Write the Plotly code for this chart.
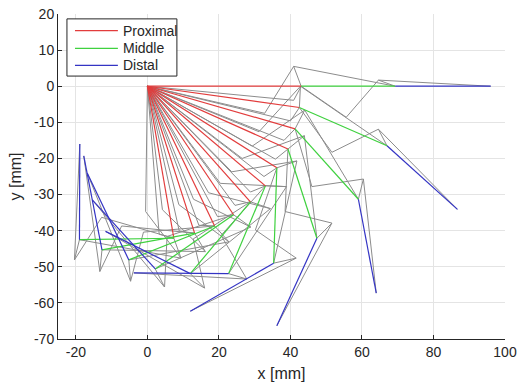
import plotly.graph_objects as go

# joint positions per posture (mm)
pip_x = [43.0, 42.5, 41.3, 39.3, 36.2, 33.0, 28.8, 24.1, 18.8, 13.2, 7.4]
pip_y = [0.0, -5.9, -11.8, -17.4, -22.6, -27.6, -32.0, -35.6, -38.7, -40.7, -42.1]
dip_x = [69.3, 67.0, 59.0, 47.4, 35.3, 22.7, 12.0, 2.2, -5.2, -12.7, -19.0]
dip_y = [0.0, -16.5, -31.3, -42.1, -49.0, -51.9, -51.9, -50.6, -48.1, -45.3, -42.5]
tip_x = [96.0, 86.7, 64.0, 36.2, 12.0, -3.8, -11.7, -15.4, -16.8, -17.8, -18.9]
tip_y = [0.0, -34.1, -57.3, -66.3, -62.3, -51.7, -40.2, -31.5, -24.1, -19.3, -16.0]

# linkage points (gray)
prx_cx = [40.9, 40.0, 38.2, 35.8, 32.6, 28.8, 24.5, 19.6, 14.4, 8.9, 3.3]
prx_cy = [-3.9, -9.6, -15.0, -20.2, -25.0, -29.3, -33.0, -36.1, -38.5, -40.1, -41.0]
drv_x = [32.8, 31.2, 29.3, 26.5, 23.6, 20.4, 17.1, 12.9, 8.8, 4.2, -0.5]
drv_y = [-7.5, -12.6, -16.6, -20.0, -23.7, -26.9, -29.5, -31.3, -32.8, -34.2, -34.7]
mid_ax = [40.9, 42.8, 44.0, 43.9, 41.8, 38.9, 34.4, 28.9, 22.8, 16.2, 9.4]
mid_ay = [5.5, 0.0, -6.6, -13.7, -20.7, -27.8, -33.9, -39.0, -43.1, -45.8, -47.6]
apx_x = [64.6, 64.6, 60.4, 51.6, 41.6, 27.8, 16.0, 4.8, -4.7, -13.3, -20.4]
apx_y = [1.7, -11.9, -25.7, -37.9, -47.6, -53.4, -55.9, -55.6, -54.0, -51.3, -48.1]
cpl_x = [55.6, 51.6, 46.0, 38.5, 30.2, 20.6, 12.8, 5.5, -1.1, -7.2, -12.8]
cpl_y = [-8.6, -18.3, -27.8, -34.7, -39.8, -41.3, -42.3, -41.6, -40.4, -38.7, -36.3]

legend_names = ["Proximal", "Middle", "Distal"]
RED, GREEN, BLUE, GRAY = "#e23c3c", "#3fd13f", "#3434c4", "#8c8c8c"
INK = "#262626"


def segs(ax, ay, bx, by):
    xs, ys = [], []
    for i in range(len(ax)):
        xs += [ax[i], bx[i], None]
        ys += [ay[i], by[i], None]
    return xs, ys


zero = [0.0] * len(pip_x)
fig = go.Figure()

gx, gy = [], []
for (ax, ay, bx, by) in [
    (zero, zero, prx_cx, prx_cy),
    (prx_cx, prx_cy, pip_x, pip_y),
    (zero, zero, drv_x, drv_y),
    (drv_x, drv_y, mid_ax, mid_ay),
    (mid_ax, mid_ay, pip_x, pip_y),
    (mid_ax, mid_ay, dip_x, dip_y),
    (pip_x, pip_y, cpl_x, cpl_y),
    (cpl_x, cpl_y, apx_x, apx_y),
    (apx_x, apx_y, dip_x, dip_y),
    (apx_x, apx_y, tip_x, tip_y),
]:
    sx, sy = segs(ax, ay, bx, by)
    gx += sx
    gy += sy
fig.add_trace(go.Scatter(x=gx, y=gy, mode="lines", line=dict(color=GRAY, width=1),
                         showlegend=False, hoverinfo="skip"))

colors = [RED, GREEN, BLUE]
for name, col, a, b in [
    (legend_names[0], RED, (zero, zero), (pip_x, pip_y)),
    (legend_names[1], GREEN, (pip_x, pip_y), (dip_x, dip_y)),
    (legend_names[2], BLUE, (dip_x, dip_y), (tip_x, tip_y)),
]:
    sx, sy = segs(a[0], a[1], b[0], b[1])
    fig.add_trace(go.Scatter(x=sx, y=sy, mode="lines", name=name, showlegend=False,
                             line=dict(color=col, width=1.2)))

# custom legend box (paper coordinates) to match the compact original
shapes = [dict(type="rect", xref="paper", yref="paper", x0=0.020, x1=0.266,
               y0=0.809, y1=0.985, line=dict(color=INK, width=1), fillcolor="white",
               layer="above")]
annotations = []
rows = [0.9486, 0.8945, 0.8422]
for name, col, yy in zip(legend_names, colors, rows):
    shapes.append(dict(type="line", xref="paper", yref="paper", x0=0.038, x1=0.134,
                       y0=yy, y1=yy, line=dict(color=col, width=1.2), layer="above"))
    annotations.append(dict(xref="paper", yref="paper", x=0.141, y=yy, text=name,
                            showarrow=False, xanchor="left", yanchor="middle",
                            font=dict(family="Liberation Sans, Arial", size=14, color=INK)))

xt = [-20, 0, 20, 40, 60, 80, 100]
yt = [-70, -60, -50, -40, -30, -20, -10, 0, 10, 20]
axis_common = dict(
    showgrid=True, gridcolor="#e4e4e4", gridwidth=1,
    zeroline=False, showline=True, linecolor=INK, linewidth=1,
    ticks="inside", ticklen=4, tickcolor=INK, automargin=False,
    tickfont=dict(family="Liberation Sans, Arial", size=14, color=INK),
    mirror=False,
)
fig.update_layout(
    width=528, height=383,
    margin=dict(l=58, r=23, t=14, b=44),
    paper_bgcolor="white", plot_bgcolor="white",
    font=dict(family="Liberation Sans, Arial", size=14, color=INK),
    showlegend=False,
    shapes=shapes, annotations=annotations,
    xaxis=dict(range=[-25, 100], tickvals=xt, ticktext=[str(v) for v in xt],
               title=dict(text="x [mm]", standoff=9, font=dict(size=16)), **axis_common),
    yaxis=dict(range=[-70, 20], tickvals=yt, ticktext=[str(v) for v in yt],
               title=dict(text="y [mm]", standoff=8, font=dict(size=16)), **axis_common),
)
fig.write_html("out.html")
